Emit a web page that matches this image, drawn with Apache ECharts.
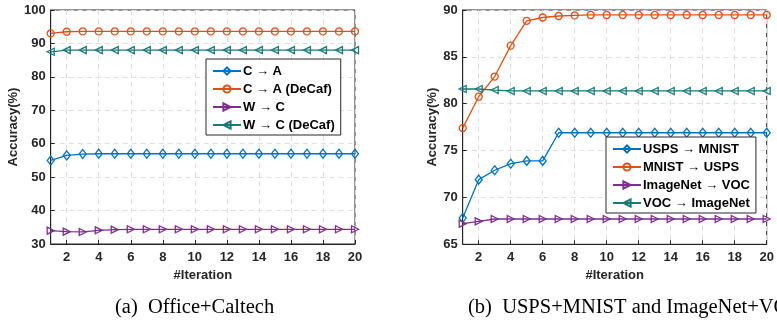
<!DOCTYPE html>
<html><head><meta charset="utf-8">
<script src="https://cdn.jsdelivr.net/npm/echarts@6/dist/echarts.min.js"></script>
<style>html,body{margin:0;padding:0;background:#fff}#c{width:777px;height:321px}</style>
</head><body><div id="c"></div>
<script>
const iterations = [1,2,3,4,5,6,7,8,9,10,11,12,13,14,15,16,17,18,19,20];
// (a) Office+Caltech
const namesA = ['C \u2192 A', 'C \u2192 A (DeCaf)', 'W \u2192 C', 'W \u2192 C (DeCaf)'];
const cToA      = [55.0,56.5,56.9,57.0,57.0,57.0,57.0,57.0,57.0,57.0,57.0,57.0,57.0,57.0,57.0,57.0,57.0,57.0,57.0,57.0];
const cToADecaf = [93.0,93.5,93.6,93.6,93.6,93.6,93.6,93.6,93.6,93.6,93.6,93.6,93.6,93.6,93.6,93.6,93.6,93.6,93.6,93.6];
const wToC      = [34.0,33.7,33.6,34.1,34.3,34.4,34.4,34.4,34.4,34.4,34.4,34.4,34.4,34.4,34.4,34.4,34.4,34.4,34.4,34.4];
const wToCDecaf = [87.5,88.0,88.0,88.0,88.0,88.0,88.0,88.0,88.0,88.0,88.0,88.0,88.0,88.0,88.0,88.0,88.0,88.0,88.0,88.0];
// (b) USPS+MNIST and ImageNet+VOC
const namesB = ['USPS \u2192 MNIST', 'MNIST \u2192 USPS', 'ImageNet \u2192 VOC', 'VOC \u2192 ImageNet'];
const uspsToMnist   = [67.8,71.9,72.9,73.6,73.9,73.9,76.9,76.9,76.9,76.9,76.9,76.9,76.9,76.9,76.9,76.9,76.9,76.9,76.9,76.9];
const mnistToUsps   = [77.4,80.75,82.9,86.2,88.85,89.2,89.36,89.42,89.47,89.47,89.47,89.47,89.47,89.47,89.47,89.47,89.47,89.47,89.47,89.47];
const imagenetToVoc = [67.2,67.45,67.7,67.7,67.7,67.7,67.7,67.7,67.7,67.7,67.7,67.7,67.7,67.7,67.7,67.7,67.7,67.7,67.7,67.7];
const vocToImagenet = [81.57,81.57,81.46,81.36,81.36,81.36,81.36,81.36,81.36,81.36,81.36,81.36,81.36,81.36,81.36,81.36,81.36,81.36,81.36,81.36];
const captions = ['(a)  Office+Caltech', '(b)  USPS+MNIST and ImageNet+VOC'];
const axisLabels = {x: '#Iteration', y: 'Accuracy(%)'};

const colors = ['#0072BD', '#D95319', '#7E2F8E', '#1A7A78'];
const symbols = ['diamond', 'circle', 'path://M0,0 L10,5 L0,10 Z', 'path://M10,0 L0,5 L10,10 Z'];
const symSizes = [[7,9], 7, 7, 7];
const font = '"Liberation Sans", Arial, sans-serif';
const serif = '"Liberation Serif", "Times New Roman", serif';
const dark = '#262626';

function xAx(gi){
  const evenOnly = (i) => (i % 2 === 1);
  return {
    type:'category', gridIndex:gi, data: iterations.map(String), boundaryGap:false,
    name: axisLabels.x, nameLocation:'middle', nameGap:23,
    nameTextStyle:{fontFamily:font, fontWeight:'bold', fontSize:13, color:dark},
    axisLine:{lineStyle:{color:dark, width:1}},
    axisTick:{inside:true, length:4, interval:evenOnly, lineStyle:{color:dark}},
    axisLabel:{interval:evenOnly, fontFamily:font, fontWeight:'bold', fontSize:13, color:dark, margin:7},
    splitLine:{show:true, interval:evenOnly, lineStyle:{color:'#dedede', type:[5,4], width:1}}
  };
}
function yAx(gi, min, max, interval, gap){
  return {
    type:'value', gridIndex:gi, min, max, interval,
    name: axisLabels.y, nameLocation:'middle', nameGap:gap,
    nameTextStyle:{fontFamily:font, fontWeight:'bold', fontSize:13, color:dark},
    axisLine:{show:true, lineStyle:{color:dark, width:1}},
    axisTick:{show:true, inside:true, length:4, lineStyle:{color:dark}},
    axisLabel:{fontFamily:font, fontWeight:'bold', fontSize:13, color:dark, margin:5},
    splitLine:{show:true, lineStyle:{color:'#dedede', type:[5,4], width:1}}
  };
}
function mk(name, data, k, gi){
  return {
    name, type:'line', data, xAxisIndex:gi, yAxisIndex:gi,
    symbol: symbols[k], symbolSize: symSizes[k], showAllSymbol:true,
    lineStyle:{color:colors[k], width:1.3},
    itemStyle:{color:'rgba(255,255,255,0)', borderColor:colors[k], borderWidth:1.3},
    emphasis:{disabled:true}, animation:false, z: 3
  };
}
function leg(names, left, top){
  return {
    data:names, orient:'vertical', left, top,
    backgroundColor:'#fff', borderColor:dark, borderWidth:1,
    padding:[5,6,3,6], itemGap:4, itemWidth:28, itemHeight:9,
    textStyle:{fontFamily:font, fontWeight:'bold', fontSize:13, color:'#000', lineHeight:14, padding:[0,0,0,-3]},
    selectedMode:false
  };
}
const chart = echarts.init(document.getElementById('c'), null, {renderer:'canvas'});
chart.setOption({
  animation:false,
  backgroundColor:'#fff',
  grid:[
    {left:50.7, top:10, width:304.3, height:234, show:true, borderColor:dark, borderWidth:1, backgroundColor:'transparent'},
    {left:462.7, top:10, width:304, height:234.3, show:true, borderColor:dark, borderWidth:1, backgroundColor:'transparent'}
  ],
  xAxis:[xAx(0), xAx(1)],
  yAxis:[yAx(0,30,100,10,28), yAx(1,65,90,5,21)],
  legend:[leg(namesA, 206, 59), leg(namesB, 606, 137)],
  title:[
    {text:captions[0], left:115, top:297, padding:0, textStyle:{fontFamily:serif, fontWeight:'normal', fontSize:20.5, color:'#000'}},
    {text:captions[1], left:468, top:297, padding:0, textStyle:{fontFamily:serif, fontWeight:'normal', fontSize:20.5, color:'#000'}}
  ],
  series:[
    mk(namesA[0], cToA, 0, 0), mk(namesA[1], cToADecaf, 1, 0), mk(namesA[2], wToC, 2, 0), mk(namesA[3], wToCDecaf, 3, 0),
    mk(namesB[0], uspsToMnist, 0, 1), mk(namesB[1], mnistToUsps, 1, 1), mk(namesB[2], imagenetToVoc, 2, 1), mk(namesB[3], vocToImagenet, 3, 1)
  ]
});
</script></body></html>
